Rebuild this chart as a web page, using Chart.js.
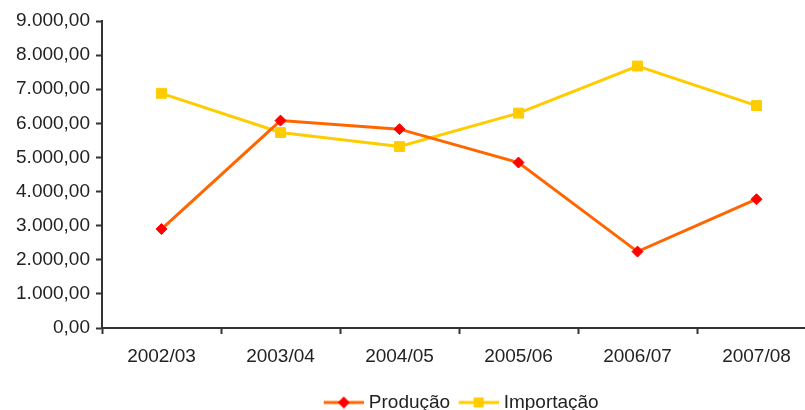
<!DOCTYPE html>
<html>
<head>
<meta charset="utf-8">
<script src="https://cdn.jsdelivr.net/npm/chart.js@4/dist/chart.umd.min.js"></script>
<style>
  html, body { margin: 0; padding: 0; background: #fff; overflow: hidden; }
  #wrap { width: 805px; height: 410px; overflow: hidden; }
</style>
</head>
<body>
<div id="wrap"><canvas id="myChart" width="830" height="422"></canvas></div>
<script>
// dados
const categories = ['2002/03', '2003/04', '2004/05', '2005/06', '2006/07', '2007/08'];
const producao = [2900, 6080, 5830, 4850, 2240, 3775];
const importacao = [6880, 5730, 5320, 6300, 7680, 6520];
const yMin = 0, yMax = 9000, yStep = 1000;

// 9000 -> "9.000,00"
const fmt = v => String(Math.round(v)).replace(/\B(?=(\d{3})+(?!\d))/g, '.') + ',00';

// icone da legenda: linha (40px) com marcador no meio, deslocada p/ direita
const legendIcon = (lineColor, markColor, shape) => {
    let c = document.createElement('canvas');
    c.width = 49; c.height = 14;
    let g = c.getContext('2d');
    g.strokeStyle = lineColor;
    g.lineWidth = 3;
    g.beginPath(); g.moveTo(9, 7); g.lineTo(49, 7); g.stroke();
    g.fillStyle = markColor;
    g.beginPath();
    if (shape === 'diamond') {
        g.moveTo(29, 1); g.lineTo(35, 7); g.lineTo(29, 13); g.lineTo(23, 7);
    } else {
        g.rect(24, 2, 10, 10);
    }
    g.fill();
    return c;
};
const icons = [legendIcon('#FF6600', '#FF0000', 'diamond'), legendIcon('#FFCC00', '#FFCC00', 'square')];

const font = { family: '"Liberation Sans", Arial, sans-serif', size: 19 };
const axisColor = '#333';

new Chart(document.getElementById('myChart'), {
    type: 'line',
    data: {
        labels: categories,
        datasets: [{
            label: 'Produção',
            data: producao,
            borderColor: '#FF6600',
            borderWidth: 3,
            pointStyle: 'rectRot',
            pointRadius: 5.5,
            pointBackgroundColor: '#FF0000',
            pointBorderColor: '#FF0000',
            pointBorderWidth: 1,
            tension: 0
        }, {
            label: 'Importação',
            data: importacao,
            borderColor: '#FFCC00',
            borderWidth: 3,
            pointStyle: 'rect',
            pointRadius: 7,
            pointBackgroundColor: '#FFCC00',
            pointBorderColor: '#FFCC00',
            pointBorderWidth: 1,
            tension: 0
        }]
    },
    options: {
        responsive: false,
        animation: false,
        layout: { padding: { top: 21, right: 14, left: 0, bottom: 0 } },
        plugins: {
            tooltip: { enabled: false },
            legend: {
                position: 'bottom',
                fullSize: false,
                labels: {
                    color: '#222',
                    font: font,
                    usePointStyle: true,
                    pointStyleWidth: 40,
                    padding: 4,
                    generateLabels: chart => {
                        const items = Chart.defaults.plugins.legend.labels.generateLabels(chart);
                        items.forEach((it, i) => { it.pointStyle = icons[i]; });
                        return items;
                    }
                }
            }
        },
        scales: {
            x: {
                offset: true,
                border: { display: true, color: axisColor, width: 2 },
                grid: { display: true, offset: true, drawOnChartArea: false, drawTicks: true, tickLength: 6, color: axisColor, tickWidth: 2 },
                ticks: { color: '#222', font: font, padding: 11, maxRotation: 0 },
                afterFit: s => { s.height = 61; }
            },
            y: {
                min: yMin,
                max: yMax,
                border: { display: true, color: axisColor, width: 2 },
                grid: { display: true, drawOnChartArea: false, drawTicks: true, tickLength: 6, color: axisColor, tickWidth: 2 },
                ticks: { stepSize: yStep, color: '#222', font: font, padding: 6, callback: v => fmt(v) },
                afterFit: s => { s.width = 102; }
            }
        }
    }
});
</script>
</body>
</html>
